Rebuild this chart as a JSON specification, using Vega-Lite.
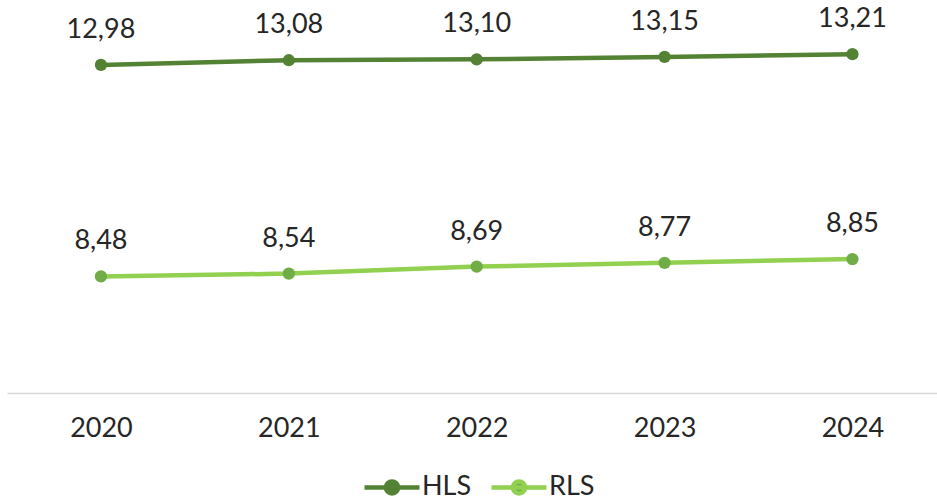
{
  "$schema": "https://vega.github.io/schema/vega-lite/v6.json",
  "autosize": "none",
  "width": 930,
  "height": 376,
  "padding": {"left": 7, "top": 17, "right": 0, "bottom": 110},
  "background": "white",
  "config": {
    "view": {"stroke": null},
    "font": "Lato",
    "locale": {"number": {"decimal": ",", "thousands": ".", "grouping": [3], "currency": ["", " €"]}}
  },
  "data": {
    "values": [
      {"year": 2020, "series": "HLS", "value": 12.98},
      {"year": 2021, "series": "HLS", "value": 13.08},
      {"year": 2022, "series": "HLS", "value": 13.10},
      {"year": 2023, "series": "HLS", "value": 13.15},
      {"year": 2024, "series": "HLS", "value": 13.21},
      {"year": 2020, "series": "RLS", "value": 8.48},
      {"year": 2021, "series": "RLS", "value": 8.54},
      {"year": 2022, "series": "RLS", "value": 8.69},
      {"year": 2023, "series": "RLS", "value": 8.77},
      {"year": 2024, "series": "RLS", "value": 8.85}
    ]
  },
  "encoding": {
    "x": {
      "field": "year", "type": "quantitative",
      "scale": {"domain": [2019.5, 2024.45], "nice": false, "zero": false},
      "axis": {
        "values": [2020, 2021, 2022, 2023, 2024], "format": "d", "title": null,
        "grid": false, "ticks": false, "domainColor": "#d9d9d9", "domainWidth": 1.5,
        "labelFont": "Lato", "labelFontSize": 27, "labelColor": "#262626",
        "labelPadding": 22
      }
    },
    "y": {
      "field": "value", "type": "quantitative",
      "scale": {"domain": [6, 14], "nice": false, "zero": false},
      "axis": null
    }
  },
  "layer": [
    {
      "mark": {"type": "line", "strokeWidth": 4.5},
      "encoding": {
        "color": {
          "field": "series", "type": "nominal",
          "scale": {"domain": ["HLS", "RLS"], "range": ["#548235", "#92D050"]},
          "legend": {
            "title": null, "orient": "none", "direction": "horizontal",
            "legendX": 355, "legendY": 440, "padding": 0,
            "labelFont": "Lato", "labelFontSize": 27, "labelColor": "#262626",
            "symbolType": "M-1,0L1,0M0.22,0A0.22,0.22,0,1,1,-0.22,0A0.22,0.22,0,1,1,0.22,0Z",
            "symbolSize": 3025, "symbolStrokeWidth": 4.5, "labelOffset": 0,
            "columnPadding": 10,
            "encode": {"symbols": {"update": {"fill": {"scale": "color", "field": "value"}}}}
          }
        }
      }
    },
    {
      "mark": {"type": "point", "filled": true, "size": 150, "opacity": 1},
      "encoding": {
        "fill": {
          "field": "series", "type": "nominal",
          "scale": {"domain": ["HLS", "RLS"], "range": ["#548235", "#70AD47"]},
          "legend": null
        }
      }
    },
    {
      "mark": {"type": "text", "dy": -35, "fontSize": 27, "font": "Lato", "color": "#262626"},
      "encoding": {
        "text": {"field": "value", "type": "quantitative", "format": ".2f"}
      }
    }
  ]
}
